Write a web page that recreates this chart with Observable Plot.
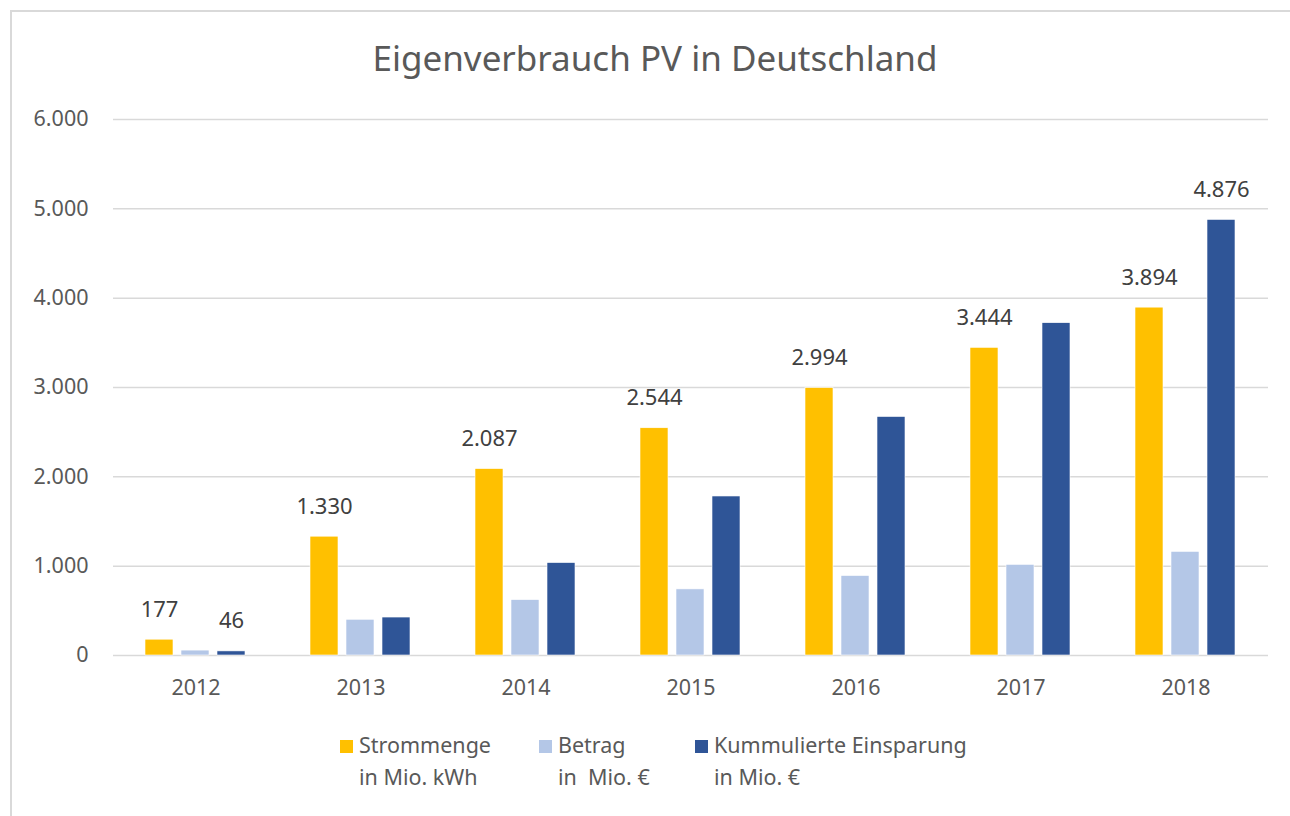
<!DOCTYPE html>
<html>
<head>
<meta charset="utf-8">
<script src="https://cdn.jsdelivr.net/npm/d3@7"></script>
<script src="https://cdn.jsdelivr.net/npm/@observablehq/plot@0.6"></script>
<style>
  html, body { margin: 0; padding: 0; background: #fff; overflow: hidden; }
  body { width: 1290px; height: 816px; position: relative; font-family: "Noto Sans", "Open Sans", sans-serif; }
  #frame { position: absolute; left: 10px; top: 10px; width: 1400px; height: 900px;
           border-left: 2px solid #d9d9d9; border-top: 2px solid #d9d9d9; box-sizing: border-box; }
  #title { position: absolute; left: 0; top: 34px; width: 1310px; text-align: center;
           font-size: 35px; color: #595959; line-height: 48px; }
  #chart { position: absolute; left: 0; top: 95px; }
  #legend { position: absolute; left: 0; top: 729px; width: 1290px; height: 70px;
            font-size: 21.5px; color: #595959; line-height: 32px; }
  .item { position: absolute; top: 0; display: flex; align-items: flex-start; white-space: pre; }
  .sw { width: 13px; height: 13px; margin-top: 11px; margin-right: 6px; flex: none; }
</style>
</head>
<body>
<div id="frame"></div>
<div id="title">Eigenverbrauch PV in Deutschland</div>
<div id="chart"></div>
<div id="legend"></div>
<script>
const years = ["2012", "2013", "2014", "2015", "2016", "2017", "2018"];
const seriesNames = ["Strommenge", "Betrag", "Kummulierte Einsparung"];
const seriesLegend = ["Strommenge\nin Mio. kWh", "Betrag\nin  Mio. €", "Kummulierte Einsparung\nin Mio. €"];
const seriesColors = ["#FFC000", "#B4C7E7", "#2F5597"];
const strommenge = [177, 1330, 2087, 2544, 2994, 3444, 3894];
const betrag = [55, 400, 620, 740, 890, 1015, 1160];
const kumuliert = [46, 425, 1035, 1780, 2670, 3720, 4876];
const yTicks = [0, 1000, 2000, 3000, 4000, 5000, 6000];
const labelledKumYears = ["2012", "2018"];

const de = d3.formatLocale({decimal: ",", thousands: ".", grouping: [3], currency: ["", " €"]});
const fmt = de.format(",d");

const rows = [];
const valuesBySeries = [strommenge, betrag, kumuliert];
years.forEach((yr, i) => {
  seriesNames.forEach((s, j) => {
    rows.push({year: yr, series: s, value: valuesBySeries[j][i]});
  });
});
const labelRows = rows.filter(d => d.series === "Strommenge" ||
  (d.series === "Kummulierte Einsparung" && labelledKumYears.includes(d.year)));

const chart = Plot.plot({
  width: 1290,
  height: 620,
  marginTop: 24,
  marginBottom: 60,
  marginLeft: 113,
  marginRight: 22,
  style: {fontFamily: "'Noto Sans', 'Open Sans', sans-serif", fontSize: "21px", color: "#595959", background: "transparent"},
  fx: {domain: years, padding: 0, label: null, axis: null},
  x: {domain: seriesNames, paddingInner: 0.216, paddingOuter: 0.84, axis: null},
  y: {domain: [0, 6000], axis: null, label: null},
  color: {domain: seriesNames, range: seriesColors},
  marks: [
    Plot.ruleY(yTicks, {stroke: "#d9d9d9", strokeWidth: 1.5}),
    Plot.barY(rows, {fx: "year", x: "series", y: "value", fill: "series", stroke: "white", strokeWidth: 0.6}),
    Plot.text(labelRows, {fx: "year", x: "series", y: "value", text: d => fmt(d.value),
      dy: -30, lineAnchor: "middle", fill: "#404040", fontSize: 22}),
    Plot.axisY({ticks: yTicks, tickSize: 0, tickPadding: 25, tickFormat: fmt, fontSize: 21.5, fill: "#595959", label: null}),
    Plot.axisFx({anchor: "bottom", tickSize: 0, tickPadding: 24, label: null, fontSize: 21.5, fill: "#595959"})
  ]
});
document.getElementById("chart").appendChild(chart);

const legend = document.getElementById("legend");
const legendLefts = [340, 539, 695];
seriesNames.forEach((s, i) => {
  const item = document.createElement("div");
  item.className = "item";
  item.style.left = legendLefts[i] + "px";
  const sw = document.createElement("div");
  sw.className = "sw";
  sw.style.background = seriesColors[i];
  const txt = document.createElement("div");
  txt.textContent = seriesLegend[i];
  item.appendChild(sw);
  item.appendChild(txt);
  legend.appendChild(item);
});
</script>
</body>
</html>
